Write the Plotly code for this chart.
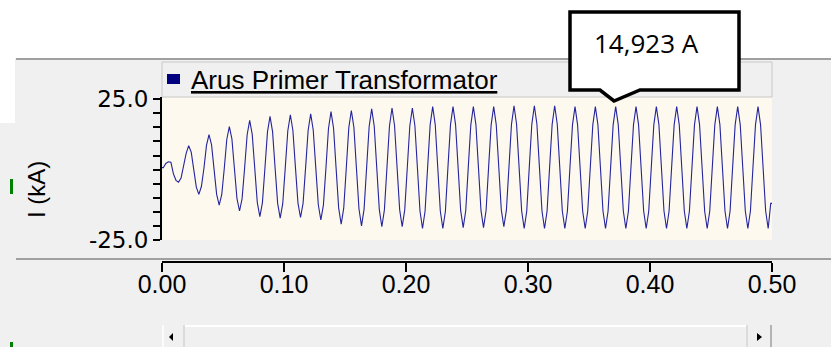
import numpy as np
import plotly.graph_objects as go

# ---------------- data ----------------
SAMPLE_STEP_S = 1 / 480  # plotted sample interval (8 samples per 60 Hz cycle)

current_kA_000_100ms = [
    0.7, 2.2, 2.8, 2.6, -1.5, -3.8, -4.5, -3.0,
    1.0, 5.8, 8.5, 6.2, 0.0, -6.2, -8.8, -6.0,
    0.5, 8.6, 12.4, 8.8, 0.0, -8.8, -12.6, -8.9,
    0.4, 10.8, 15.3, 10.9, 0.3, -10.3, -14.7, -10.4,
    0.5, 12.4, 17.5, 12.5, 0.4, -11.7, -16.7, -11.8,
    0.6, 13.4, 18.9, 13.5, 0.6, -12.0, -17.2, -12.1,
]
current_kA_100_200ms = [
    0.7, 13.8, 19.5, 13.9, 0.8, -11.9, -17.0, -12.0,
    0.7, 14.0, 19.8, 14.1, 0.7, -12.5, -17.9, -12.6,
    0.6, 14.6, 20.6, 14.7, 0.5, -13.6, -19.4, -13.7,
    0.5, 14.9, 21.0, 15.0, 0.5, -14.0, -20.0, -14.1,
    0.6, 15.3, 21.6, 15.4, 0.6, -14.2, -20.3, -14.3,
    0.7, 15.5, 21.9, 15.6, 0.7, -14.2, -20.3, -14.3,
]
current_kA_200_300ms = [
    0.6, 15.5, 21.9, 15.6, 0.5, -14.7, -20.9, -14.8,
    0.7, 15.9, 22.4, 16.0, 0.7, -14.7, -20.9, -14.8,
    0.8, 15.9, 22.4, 16.0, 0.8, -14.5, -20.6, -14.6,
    0.8, 15.9, 22.4, 16.0, 0.8, -14.5, -20.6, -14.6,
    0.8, 15.9, 22.4, 16.0, 0.9, -14.3, -20.3, -14.4,
    0.8, 16.1, 22.7, 16.2, 0.8, -14.7, -20.9, -14.8,
]
current_kA_300_400ms = [
    0.8, 16.1, 22.7, 16.2, 0.8, -14.7, -20.9, -14.8,
    0.8, 16.1, 22.7, 16.2, 0.8, -14.7, -20.9, -14.8,
    0.7, 15.9, 22.4, 16.0, 0.7, -14.7, -20.9, -14.8,
    0.7, 15.9, 22.4, 16.0, 0.7, -14.7, -20.9, -14.8,
    0.7, 15.9, 22.4, 16.0, 0.7, -14.7, -20.9, -14.8,
    0.7, 15.9, 22.4, 16.0, 0.7, -14.7, -20.9, -14.8,
]
current_kA_400_500ms = [
    0.7, 15.9, 22.4, 16.0, 0.7, -14.7, -20.9, -14.8,
    0.7, 15.9, 22.4, 16.0, 0.7, -14.7, -20.9, -14.8,
    0.7, 15.9, 22.4, 16.0, 0.7, -14.7, -20.9, -14.8,
    0.7, 15.9, 22.4, 16.0, 0.7, -14.7, -20.9, -14.8,
    0.7, 15.9, 22.4, 16.0, 0.7, -14.7, -20.9, -14.8,
    0.7, 15.9, 22.4, 16.0, 0.7, -14.7, -20.9, -12.0,
    -12.0,
]

series_name = "Arus Primer Transformator"
callout_text = "14,923 A"
y_title = "I (kA)"
x_tick_values = [0.0, 0.1, 0.2, 0.3, 0.4, 0.5]
x_tick_labels = ["0.00", "0.10", "0.20", "0.30", "0.40", "0.50"]
y_tick_values = [-25, -20, -15, -10, -5, 0, 5, 10, 15, 20, 25]
y_tick_labels = ["-25.0", "", "", "", "", "", "", "", "", "", "25.0"]

current_kA = (current_kA_000_100ms + current_kA_100_200ms + current_kA_200_300ms
              + current_kA_300_400ms + current_kA_400_500ms)
# samples are plotted at the centre of each sampling interval
time_s = (np.arange(len(current_kA)) + 0.5) * SAMPLE_STEP_S
time_s[-1] = 0.5

# ---------------- layout geometry (pixels) ----------------
W, H = 831, 347
L, R, T, B = 162, 772, 97, 262      # plotting area (x axis line at B)
PW, PH = R - L, B - T


def px(x):
    return (x - L) / PW


def py(y):
    return (B - y) / PH


fig = go.Figure()
fig.add_trace(go.Scatter(
    x=np.concatenate([[0.0], time_s]), y=[current_kA[0]] + current_kA,
    mode="lines", line_shape="linear",
    line=dict(color="#24249c", width=1.1), showlegend=False, hoverinfo="skip",
))

shapes = []
shapes.append(dict(type="rect", xref="paper", yref="paper", x0=px(0), x1=px(W), y0=py(58), y1=py(0),
                   fillcolor="white", line_width=0, layer="below"))
shapes.append(dict(type="rect", xref="paper", yref="paper", x0=px(0), x1=px(15), y0=py(123), y1=py(58),
                   fillcolor="white", line_width=0, layer="below"))
shapes.append(dict(type="line", xref="paper", yref="paper", x0=px(16), x1=px(W), y0=py(59), y1=py(59),
                   line=dict(color="#a0a0a0", width=2)))
shapes.append(dict(type="line", xref="paper", yref="paper", x0=px(16), x1=px(W), y0=py(259), y1=py(259),
                   line=dict(color="#a0a0a0", width=2)))
shapes.append(dict(type="rect", xref="x domain", yref="y domain", x0=0, x1=1, y0=0, y1=1,
                   fillcolor="#fdf9ef", line_width=0, layer="below"))
shapes.append(dict(type="rect", xref="paper", yref="paper", x0=px(162), x1=px(772), y0=py(97), y1=py(62),
                   fillcolor="#f0f0f0", line=dict(color="#c8c8c8", width=1), layer="below"))
shapes.append(dict(type="rect", xref="paper", yref="paper", x0=px(167), x1=px(180), y0=py(84), y1=py(74),
                   fillcolor="#000080", line_width=0))
cx = [570, 739, 739, 640, 614, 600, 570]
cy = [12, 12, 90, 90, 101, 90, 90]
path = "M " + " L ".join(f"{px(a):.5f},{py(b):.5f}" for a, b in zip(cx, cy)) + " Z"
shapes.append(dict(type="path", xref="paper", yref="paper", path=path,
                   fillcolor="white", line=dict(color="black", width=3.5)))
shapes.append(dict(type="rect", xref="paper", yref="paper", x0=px(10), x1=px(13), y0=py(194), y1=py(179),
                   fillcolor="#008000", line_width=0))
shapes.append(dict(type="rect", xref="paper", yref="paper", x0=px(10), x1=px(13), y0=py(347), y1=py(342),
                   fillcolor="#008000", line_width=0))
shapes.append(dict(type="rect", xref="paper", yref="paper", x0=px(162), x1=px(772), y0=py(347), y1=py(325),
                   fillcolor="#f0f0f0", line_width=0))
shapes.append(dict(type="line", xref="paper", yref="paper", x0=px(184), x1=px(747), y0=py(326), y1=py(326),
                   line=dict(color="white", width=2)))
for xv, col in [(163, "#ffffff"), (184, "#d4d4d4"), (747, "#d4d4d4"), (771, "#a0a0a0")]:
    shapes.append(dict(type="line", xref="paper", yref="paper", x0=px(xv), x1=px(xv), y0=py(347), y1=py(325),
                       line=dict(color=col, width=1.5)))
shapes.append(dict(type="path", xref="paper", yref="paper",
                   path=f"M {px(173):.5f},{py(333):.5f} L {px(173):.5f},{py(341):.5f} L {px(169):.5f},{py(337):.5f} Z",
                   fillcolor="black", line_width=0))
shapes.append(dict(type="path", xref="paper", yref="paper",
                   path=f"M {px(757):.5f},{py(333):.5f} L {px(757):.5f},{py(341):.5f} L {px(762):.5f},{py(337):.5f} Z",
                   fillcolor="black", line_width=0))

annotations = [
    dict(xref="paper", yref="paper", x=px(189), y=py(80), xanchor="left", yanchor="middle",
         text=f"<u>{series_name}</u>", showarrow=False,
         font=dict(family="Liberation Sans, Arial, sans-serif", size=26, color="black")),
    dict(xref="paper", yref="paper", x=px(646), y=py(43), xanchor="center", yanchor="middle",
         text=callout_text, showarrow=False,
         font=dict(family="Open Sans, sans-serif", size=26, color="black")),
    dict(xref="paper", yref="paper", x=px(36), y=py(189), xanchor="center", yanchor="middle",
         text=y_title, textangle=-90, showarrow=False,
         font=dict(family="Liberation Sans, Arial, sans-serif", size=24, color="black")),
]

fig.update_layout(
    width=W, height=H,
    margin=dict(l=L, r=W - R, t=T, b=H - B, pad=0),
    paper_bgcolor="#f0f0f0", plot_bgcolor="#f0f0f0",
    shapes=shapes, annotations=annotations, showlegend=False,
    xaxis=dict(range=[0, 0.5], anchor="free", position=0, showline=True, linecolor="black", linewidth=2,
               ticks="outside", ticklen=9, tickwidth=2, tickcolor="black", ticklabelstandoff=-9,
               tickvals=x_tick_values, ticktext=x_tick_labels, showgrid=False, zeroline=False,
               tickfont=dict(family="Liberation Sans, Arial, sans-serif", size=25, color="black")),
    yaxis=dict(range=[-25, 25.8], domain=[py(240), 1], showline=True, linecolor="black", linewidth=2,
               ticks="outside", ticklen=7, tickwidth=2, tickcolor="black",
               tickvals=y_tick_values, ticktext=y_tick_labels, showgrid=False, zeroline=False,
               tickfont=dict(family="DejaVu Sans, Verdana, sans-serif", size=23, color="black")),
)

fig.write_html("out.html", config={"displayModeBar": False},
               post_script="document.body.style.margin='0';")
